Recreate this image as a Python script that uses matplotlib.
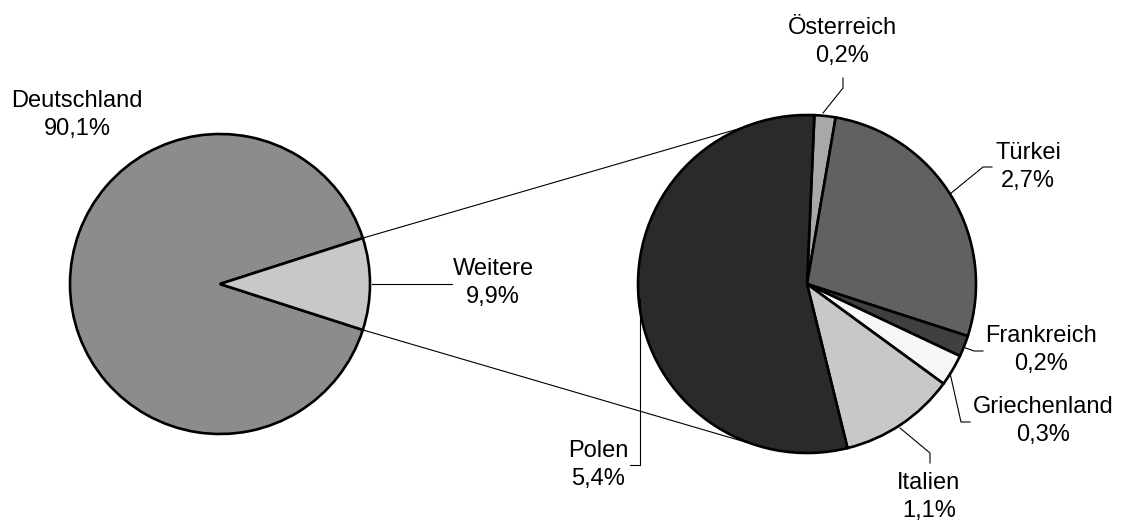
import numpy as np
import matplotlib
matplotlib.use('Agg')
import matplotlib.pyplot as plt

plt.rcParams['font.family'] = ['Liberation Sans', 'DejaVu Sans']

# data
main_labels = ['Deutschland', 'Weitere']
main_values = [90.1, 9.9]
main_colors = ['#8c8c8c', '#c8c8c8']

sub_labels = ['Österreich', 'Türkei', 'Frankreich', 'Griechenland', 'Italien', 'Polen']
sub_values = [0.2, 2.7, 0.2, 0.3, 1.1, 5.4]
sub_colors = ['#a8a8a8', '#616161', '#404040', '#f7f7f7', '#c8c8c8', '#2a2a2a']

W, H = 1138, 523
def Y(y):
    return H - y

fig = plt.figure(figsize=(W / 100, H / 100), dpi=100)
ax = fig.add_axes([0, 0, 1, 1])

c1, r1 = (220, Y(284)), 150
c2, r2 = (807, Y(284)), 169

# left pie, "Weitere" centred on the right side
half = 360 * main_values[1] / sum(main_values) / 2
ax.pie(main_values, colors=main_colors, center=c1, radius=r1, startangle=half,
       wedgeprops=dict(edgecolor='black', linewidth=1.9))
# right pie
ax.pie(sub_values, colors=sub_colors, center=c2, radius=r2, startangle=87.5,
       counterclock=False, wedgeprops=dict(edgecolor='black', linewidth=1.9))

# connector lines between the pies
for a1, a2 in [(half, 112), (-half, -107)]:
    p1 = (c1[0] + r1 * np.cos(np.radians(a1)), c1[1] + r1 * np.sin(np.radians(a1)))
    p2 = (c2[0] + r2 * np.cos(np.radians(a2)), c2[1] + r2 * np.sin(np.radians(a2)))
    ax.plot([p1[0], p2[0]], [p1[1], p2[1]], color='black', lw=0.8, zorder=0)

def fmt(v):
    return f'{v:.1f}'.replace('.', ',') + '%'

# label positions (pixel) and leader line polylines
main_pos = [(77, 115), (493, 283)]
main_leaders = [None, [(372, 284), (452, 284)]]
sub_pos = [(842, 42), (1028, 167), (1041, 350), (1043, 421), (929, 497), (598, 465)]
sub_leaders = [
    [(823, 113), (843, 88), (843, 78)],
    [(950, 194), (983, 167), (992, 167)],
    [(963, 347), (974, 351), (983, 351)],
    [(950, 373), (961, 422), (970, 422)],
    [(900, 428), (930, 453), (930, 463)],
    [(640, 299), (640, 465), (630, 465)],
]

for labels, values, pos, leaders in [(main_labels, main_values, main_pos, main_leaders),
                                     (sub_labels, sub_values, sub_pos, sub_leaders)]:
    for lab, v, (x, y), ld in zip(labels, values, pos, leaders):
        ax.text(x, Y(y), f'{lab}\n{fmt(v)}', ha='center', va='center',
                fontsize=17, linespacing=1.3)
        if ld:
            xs, ys = zip(*ld)
            ax.plot(xs, [Y(v) for v in ys], color='black', lw=0.8)

ax.set_xlim(0, W)
ax.set_ylim(0, H)
ax.set_aspect('equal')
ax.axis('off')
fig.savefig('out.png', dpi=100)
